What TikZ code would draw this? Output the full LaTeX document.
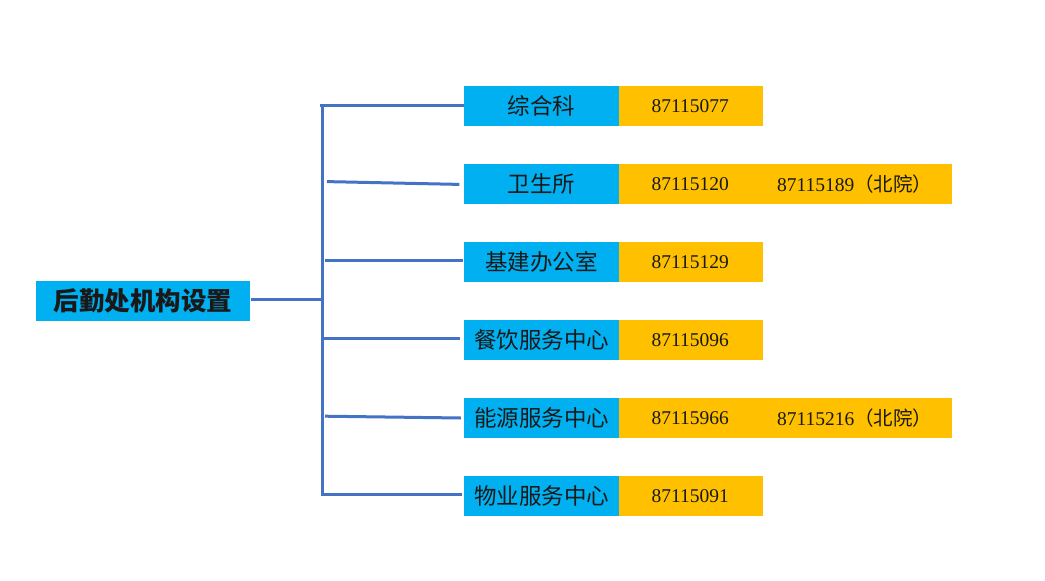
\documentclass[tikz,border=0pt]{standalone}
\usepackage{fontspec}
\setmainfont{Liberation Serif}
\newfontfamily\cjk{Noto Sans CJK SC}
\definecolor{boxblue}{HTML}{00B0F0}
\definecolor{boxorange}{HTML}{FFC000}
\definecolor{linkblue}{HTML}{4472C4}
\tikzset{
  unitbox/.style={draw=none, fill=boxblue, minimum width=155pt, minimum height=39.5pt, inner sep=0pt,
    font=\cjk\fontsize{22.5}{26}\selectfont, text=black!90},
  rootbox/.style={draw=none, fill=boxblue, minimum width=214.5pt, minimum height=39.5pt, inner sep=0pt,
    font=\cjk\bfseries\fontsize{25.5}{29}\selectfont, text=black!90},
  telbox/.style={draw=none, fill=boxorange, minimum height=39.5pt, inner sep=0pt},
  tel/.style={anchor=west, inner sep=0pt, font=\fontsize{19.5}{23}\selectfont, text=black!90},
  link/.style={draw=linkblue, line width=3pt}
}
\begin{document}
\begin{tikzpicture}[x=1pt,y=-1pt]
\useasboundingbox (0,0) rectangle (1045,581);
% root
\node[rootbox] (root) at (143.2,300.8) {后勤处机构设置};
% unit boxes
\node[unitbox] (u1) at (541.5,105.8) {综合科};
\node[unitbox] (u2) at (541.5,183.8) {卫生所};
\node[unitbox] (u3) at (541.5,261.8) {基建办公室};
\node[unitbox] (u4) at (541.5,339.8) {餐饮服务中心};
\node[unitbox] (u5) at (541.5,417.8) {能源服务中心};
\node[unitbox] (u6) at (541.5,495.8) {物业服务中心};
% telephone boxes
\node[telbox, minimum width=144pt] (t1) at (691,105.8) {};
\node[telbox, minimum width=333pt] (t2) at (785.5,183.8) {};
\node[telbox, minimum width=144pt] (t3) at (691,261.8) {};
\node[telbox, minimum width=144pt] (t4) at (691,339.8) {};
\node[telbox, minimum width=333pt] (t5) at (785.5,417.8) {};
\node[telbox, minimum width=144pt] (t6) at (691,495.8) {};
\node[tel] (n1) at (651.5,105.8) {87115077};
\node[tel] (n2) at (651.5,183.8) {87115120};
\node[tel] (n2b) at (777,183.8) {87115189{\cjk（北院）}};
\node[tel] (n3) at (651.5,261.8) {87115129};
\node[tel] (n4) at (651.5,339.8) {87115096};
\node[tel] (n5) at (651.5,417.8) {87115966};
\node[tel] (n5b) at (777,417.8) {87115216{\cjk（北院）}};
\node[tel] (n6) at (651.5,495.8) {87115091};
% connectors
\coordinate (vtop) at (322.7,104.3);
\coordinate (vbot) at (322.7,495.6);
\coordinate (vmid) at (322.7,299.3);
\coordinate (c1) at (320,105.7);
\coordinate (c2) at (327,181.6);
\coordinate (c3) at (325,260);
\coordinate (c4) at (323,338);
\coordinate (c5) at (325,416.2);
\coordinate (c6) at (322,494.8);
\draw[link] (vtop) -- (vbot);
\draw[link] (root.east |- vmid) -- (vmid);
\draw[link] (c1) -- (u1.west |- c1);
\draw[link] (c2) -- ([xshift=-4.5pt,yshift=-0.6pt]u2.west);
\draw[link] (c3) -- ([xshift=-1pt]u3.west |- c3);
\draw[link] (c4) -- ([xshift=-4pt]u4.west |- c4);
\draw[link] (c5) -- ([xshift=-3pt,yshift=-0.2pt]u5.west);
\draw[link] (c6) -- ([xshift=-2pt]u6.west |- c6);
\end{tikzpicture}
\end{document}
